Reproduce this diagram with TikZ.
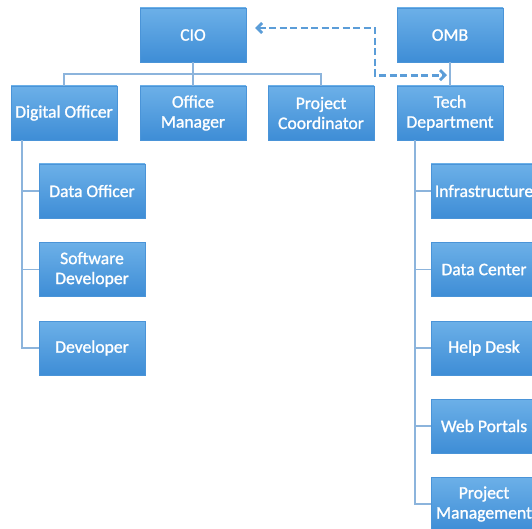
\documentclass[tikz,border=0pt]{standalone}
\usepackage{fontspec}
\setmainfont{Carlito}[FakeBold=1.2]
\usetikzlibrary{arrows.meta,calc}
\definecolor{boxtop}{HTML}{6CB0E8}
\definecolor{boxbot}{HTML}{3E8DD6}
\definecolor{boxedge}{HTML}{4A94D8}
\definecolor{linkcol}{HTML}{8CB4DC}
\definecolor{dashcol}{HTML}{5B9DD8}
\begin{document}
\begin{tikzpicture}[x=1pt,y=-1pt,
  unit/.style={rectangle, minimum width=106pt, minimum height=54pt, inner sep=0pt,
    top color=boxtop, bottom color=boxbot, draw=boxedge, line width=0.4pt,
    text=white, align=center, font=\fontsize{17.6}{20}\selectfont},
  link/.style={draw=linkcol, line width=1.5pt},
  liaison/.style={draw=dashcol, line width=2.8pt, dash pattern=on 7pt off 3.5pt,
    {Straight Barb[length=5pt,width=10pt]}-{Straight Barb[length=5pt,width=10pt]}}]
\useasboundingbox (0,0) rectangle (532,529);
\clip (0,0) rectangle (532,529);

% top level
\node[unit] (cio) at (193,35) {CIO};
\node[unit] (omb) at (450,35) {OMB};

% second level
\node[unit] (dig) at (64,113) {Digital Officer};
\node[unit] (off) at (193,113) {Office\\Manager};
\node[unit] (pco) at (321,113) {Project\\Coordinator};
\node[unit] (tech) at (450,113) {Tech\\Department};

% digital officer's team
\node[unit] (dof) at (92,191) {Data Officer};
\node[unit] (sdev) at (92,269.5) {Software\\Developer};
\node[unit] (dev) at (92,348) {Developer};

% tech department's units
\node[unit] (infra) at (484,191) {Infrastructure};
\node[unit] (dc) at (484,269.5) {Data Center};
\node[unit] (help) at (484,348) {Help Desk};
\node[unit] (web) at (484,426) {Web Portals};
\node[unit] (pm) at (484,504) {Project\\Management};

% reporting lines
\draw[link] (cio.south) -- (off.north);
\draw[link] (dig.north) |- ($(cio.south)+(0,12)$) -| (pco.north);
\draw[link] (omb.south) -- (tech.north);

\draw[link] ([xshift=11pt]dig.south west) |- (dof.west);
\draw[link] ([xshift=11pt]dig.south west) |- (sdev.west);
\draw[link] ([xshift=11pt]dig.south west) |- (dev.west);

\draw[link] ([xshift=18pt]tech.south west) |- (infra.west);
\draw[link] ([xshift=18pt]tech.south west) |- (dc.west);
\draw[link] ([xshift=18pt]tech.south west) |- (help.west);
\draw[link] ([xshift=18pt]tech.south west) |- (web.west);
\draw[link] ([xshift=18pt]tech.south west) |- (pm.west);

% dotted-line relationship between CIO and OMB's department
\coordinate (elbow) at (375,28);
\draw[liaison] ([xshift=9pt,yshift=7pt]cio.east) -- (elbow) |- ($(omb.south)+(-3,13)$);
\end{tikzpicture}
\end{document}
